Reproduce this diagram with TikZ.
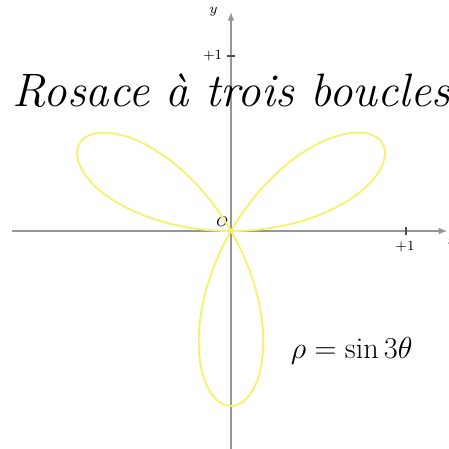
\documentclass[tikz,border=0pt]{standalone}
\usepackage{fontspec}
\definecolor{rosecol}{RGB}{248,240,115}
\definecolor{axecol}{RGB}{150,150,150}
\begin{document}
\begin{tikzpicture}[
    x=3.5cm, y=3.5cm,
    every node/.style={font=\footnotesize},
    axe/.style={draw=axecol, line width=0.7pt, -latex},
    tick/.style={draw=black!70, line width=0.6pt}
]

\useasboundingbox (-1.32,-1.24) rectangle (1.2457,1.32);

% =========================================================
% Axes
% =========================================================

\coordinate (xmin) at (-1.251,0);
\coordinate (xmax) at (1.236,0);
\coordinate (ymin) at (0,-1.30);
\coordinate (ymax) at (0,1.251);

\draw[axe] (xmin) -- (xmax);
\draw[axe] (ymin) -- (ymax);

\node (xlab) at (1.265,-0.058) {$x$};
\node (ylab) at (-0.1,1.25) {$y$};

% ticks
\draw[tick] (1,-0.025) -- (1,0.025);
\draw[tick] (-0.025,1) -- (0.025,1);
\node (xone) at (0.994,-0.088) {$+1$};
\node (yone) at (-0.105,1.0) {$+1$};

% origin
\fill (0,0) circle (0.015);
\node (orig) at (-0.05,0.052) {$O$};

% =========================================================
% Rose
% =========================================================

\draw[rosecol, line width=1.1pt] plot[domain=0:180, samples=240, smooth]
    ({sin(3*\x)*cos(\x)},{sin(3*\x)*sin(\x)});

% =========================================================
% Texts
% =========================================================

\node[anchor=base west, inner sep=0pt, font=\fontsize{26.7}{32}\selectfont\itshape] (titre) at (-1.25,0.709) {Rosace à trois boucles};
\node[anchor=base west, inner sep=0pt, font=\fontsize{17.2}{20}\selectfont] (eq) at (0.34,-0.731) {$\rho=\sin 3\theta$};

\end{tikzpicture}
\end{document}
